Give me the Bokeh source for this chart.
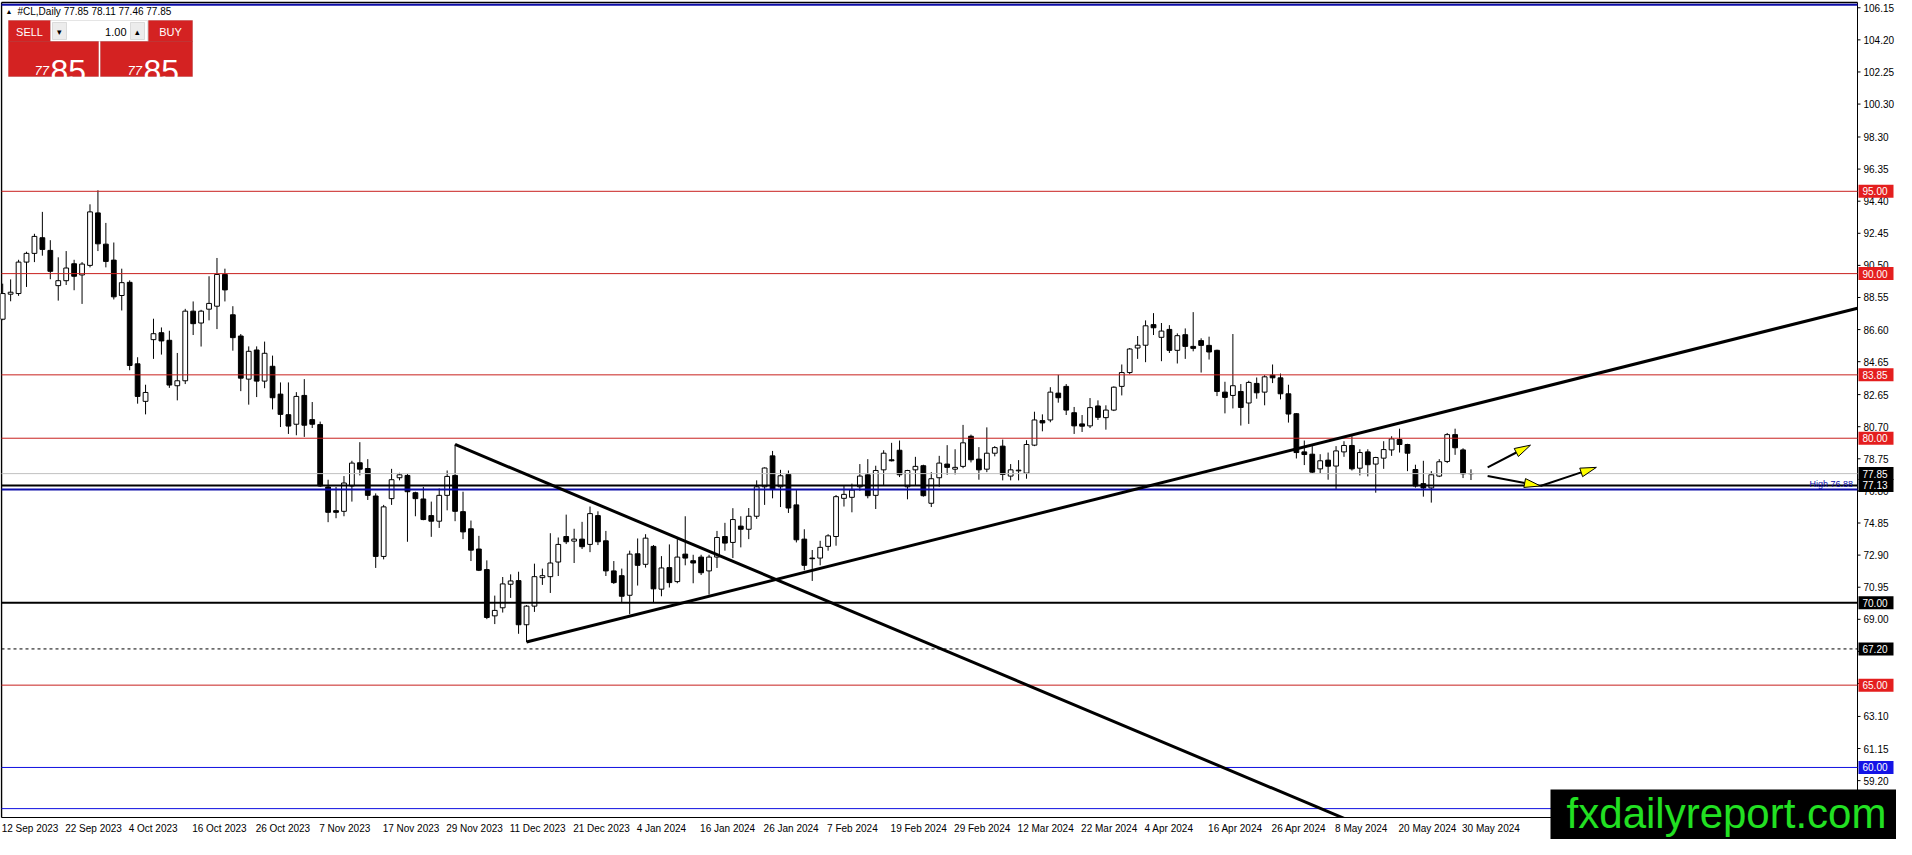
import math
from bokeh.plotting import figure
from bokeh.models import ColumnDataSource, Range1d, Label, BoxAnnotation
from bokeh.core.properties import value
from bokeh.embed import file_html
from bokeh.resources import INLINE

# ---------------- data ----------------
symbol_title = "#CL,Daily"
last_ohlc = [77.85, 78.11, 77.46, 77.85]

opens = [87.23, 88.75, 88.79, 90.70, 91.23, 92.18, 91.41, 89.27, 89.57, 90.60,
         89.92, 90.50, 93.69, 91.79, 90.82, 88.67, 89.47, 84.52, 82.24, 85.99,
         86.41, 85.95, 83.19, 83.49, 87.72, 87.00, 87.84, 88.02, 89.95, 87.50,
         86.21, 83.59, 85.36, 83.47, 84.37, 82.68, 81.43, 80.85, 82.60, 81.13,
         80.83, 77.04, 75.60, 75.56, 77.10, 78.51, 78.16, 76.49, 72.82, 76.33,
         77.60, 77.74, 76.69, 76.31, 75.30, 74.96, 76.53, 77.74, 75.54, 74.50,
         73.27, 72.02, 69.21, 69.70, 71.13, 71.35, 68.67, 69.80, 71.53, 71.59,
         72.48, 74.03, 73.75, 73.87, 73.55, 75.30, 73.77, 71.94, 71.65, 70.46,
         72.98, 72.34, 73.43, 70.83, 72.14, 71.29, 72.96, 72.56, 72.78, 71.94,
         72.78, 74.03, 73.67, 74.66, 74.47, 75.26, 77.05, 78.93, 77.05, 77.80,
         75.95, 73.87, 72.72, 72.72, 73.43, 74.03, 76.35, 76.41, 77.05, 77.78,
         76.53, 78.08, 78.69, 79.27, 77.05, 78.08, 78.33, 76.05, 77.60, 78.43,
         78.12, 78.29, 80.12, 78.73, 78.12, 79.09, 79.52, 77.70, 78.02, 77.88,
         79.58, 81.07, 81.11, 82.74, 83.15, 81.55, 80.87, 80.75, 81.96, 81.25,
         81.71, 83.15, 83.99, 85.48, 85.65, 86.90, 86.13, 86.61, 85.34, 86.29,
         85.58, 85.93, 85.64, 85.34, 82.80, 82.60, 82.84, 82.14, 83.33, 82.80,
         83.83, 83.67, 82.70, 81.49, 79.17, 79.03, 78.14, 78.67, 78.31, 79.17,
         79.56, 78.18, 79.17, 78.43, 78.79, 79.29, 79.92, 79.62, 78.10, 77.24,
         76.98, 77.70, 78.59, 80.22, 79.29, 77.85]
highs = [89.39, 89.65, 90.84, 91.33, 92.42, 93.75, 92.03, 90.99, 91.37, 90.84,
         90.70, 94.21, 95.06, 93.08, 91.89, 90.30, 89.59, 84.92, 83.25, 87.26,
         86.73, 86.53, 85.18, 87.86, 88.31, 87.80, 89.84, 90.95, 90.30, 88.02,
         86.33, 85.58, 85.58, 85.87, 85.02, 83.39, 83.39, 82.80, 83.59, 82.20,
         81.01, 77.48, 77.04, 77.70, 78.63, 79.76, 78.73, 76.65, 75.95, 78.14,
         77.90, 77.84, 76.75, 77.04, 76.15, 76.95, 78.04, 79.62, 76.75, 75.00,
         74.07, 72.58, 70.44, 71.57, 71.73, 71.89, 69.86, 72.38, 72.08, 74.23,
         73.97, 75.36, 74.50, 74.92, 75.85, 75.56, 74.37, 72.54, 72.08, 73.17,
         73.91, 74.17, 73.51, 72.84, 73.55, 73.87, 75.26, 72.92, 72.92, 72.92,
         74.37, 74.86, 75.75, 75.26, 75.76, 77.44, 78.23, 79.23, 78.08, 78.04,
         76.85, 74.47, 73.21, 73.77, 74.17, 76.55, 77.14, 77.24, 78.43, 78.73,
         78.33, 79.27, 79.72, 79.86, 78.08, 78.87, 78.39, 77.94, 78.93, 79.58,
         79.33, 80.81, 80.22, 79.46, 80.66, 79.52, 79.92, 78.43, 78.67, 79.88,
         81.61, 81.45, 83.10, 83.85, 83.29, 81.90, 81.41, 82.44, 82.30, 82.00,
         83.15, 84.48, 85.48, 86.21, 87.16, 87.60, 87.00, 86.87, 86.37, 86.67,
         87.66, 86.07, 86.17, 85.38, 83.43, 86.33, 83.29, 83.49, 83.69, 83.83,
         84.48, 83.93, 83.25, 81.53, 79.86, 79.52, 79.03, 79.13, 79.52, 79.82,
         80.12, 79.33, 79.33, 78.87, 79.82, 80.12, 80.58, 79.66, 78.39, 78.63,
         78.00, 78.73, 80.32, 80.58, 79.39, 78.11]
lows = [87.17, 88.32, 88.65, 89.19, 90.70, 91.09, 89.66, 88.36, 89.31, 88.99,
        88.16, 90.38, 91.37, 90.38, 88.43, 87.76, 84.13, 82.10, 81.45, 84.82,
        85.08, 83.06, 82.30, 83.29, 86.27, 85.57, 87.16, 86.63, 88.31, 85.32,
        82.86, 82.04, 82.50, 83.04, 81.75, 80.68, 80.26, 80.18, 80.08, 80.62,
        77.04, 74.90, 75.14, 75.26, 76.15, 77.74, 76.25, 72.12, 72.64, 75.95,
        77.44, 73.71, 75.26, 75.02, 74.01, 74.55, 75.62, 74.96, 73.87, 72.54,
        71.93, 69.01, 68.71, 69.41, 70.30, 68.12, 67.62, 69.45, 71.09, 70.60,
        71.63, 73.57, 72.42, 73.27, 73.08, 73.51, 71.63, 71.15, 70.00, 69.31,
        71.05, 72.14, 70.00, 70.40, 70.93, 71.19, 72.28, 71.19, 71.69, 70.50,
        72.12, 73.17, 72.72, 73.37, 73.87, 75.10, 75.95, 76.35, 75.82, 75.46,
        73.67, 71.98, 71.33, 72.28, 73.17, 73.47, 75.85, 75.50, 76.81, 76.35,
        75.70, 77.14, 78.59, 77.64, 76.29, 77.14, 76.45, 75.82, 77.05, 77.78,
        77.80, 78.18, 78.53, 77.48, 77.94, 78.90, 77.44, 77.44, 77.44, 77.54,
        79.52, 80.42, 80.97, 82.16, 81.41, 80.26, 80.38, 80.62, 81.11, 80.52,
        81.65, 82.60, 83.89, 84.82, 84.62, 86.27, 84.68, 85.18, 84.54, 84.82,
        85.28, 83.99, 84.78, 82.56, 81.51, 81.81, 80.77, 80.87, 82.40, 82.00,
        83.35, 82.36, 80.95, 78.77, 78.37, 77.88, 77.88, 77.48, 76.89, 78.87,
        78.04, 77.74, 77.68, 76.69, 78.14, 78.93, 79.13, 78.00, 77.00, 76.45,
        76.09, 77.64, 78.49, 78.99, 77.58, 77.46]
closes = [88.79, 88.87, 90.70, 91.23, 92.26, 91.47, 90.14, 89.57, 90.34, 89.84,
          90.58, 93.75, 91.81, 90.74, 88.59, 89.45, 84.42, 82.54, 82.78, 86.35,
          85.91, 83.23, 83.49, 87.72, 86.96, 87.72, 88.19, 89.95, 89.01, 86.11,
          83.65, 85.28, 83.47, 85.16, 82.46, 81.45, 80.74, 82.54, 80.79, 80.85,
          77.10, 75.50, 75.50, 77.28, 78.49, 78.12, 76.53, 72.82, 75.83, 77.48,
          77.78, 76.75, 76.33, 75.06, 74.96, 76.53, 77.68, 75.56, 74.31, 73.20,
          71.98, 69.11, 69.54, 71.15, 71.33, 68.67, 69.80, 71.59, 71.65, 72.42,
          73.55, 73.71, 73.87, 73.41, 75.42, 73.71, 71.94, 71.23, 70.40, 72.96,
          72.28, 73.93, 70.85, 72.12, 71.23, 72.78, 72.72, 72.42, 71.83, 72.78,
          73.97, 73.63, 75.06, 74.47, 75.26, 77.05, 78.19, 76.91, 77.72, 75.76,
          73.83, 72.28, 72.68, 73.37, 74.07, 76.45, 76.59, 76.85, 77.70, 76.51,
          78.04, 79.09, 78.63, 77.78, 78.04, 78.29, 76.51, 77.54, 78.49, 78.23,
          78.23, 79.72, 78.69, 78.08, 79.09, 79.43, 77.80, 78.08, 78.06, 79.62,
          81.11, 80.93, 82.80, 82.46, 81.71, 80.75, 80.73, 81.86, 81.27, 81.71,
          83.10, 83.99, 85.42, 85.65, 86.83, 86.71, 86.51, 85.34, 86.23, 85.58,
          85.46, 85.64, 85.24, 82.84, 82.48, 83.19, 81.87, 83.39, 82.76, 83.73,
          83.67, 82.70, 81.47, 79.13, 79.01, 77.94, 78.63, 78.30, 79.23, 79.56,
          78.14, 79.13, 78.39, 78.83, 79.31, 79.96, 79.62, 79.09, 77.10, 76.98,
          77.78, 78.57, 80.22, 79.42, 77.84, 77.85]

date_labels = ["12 Sep 2023", "22 Sep 2023", "4 Oct 2023", "16 Oct 2023", "26 Oct 2023",
               "7 Nov 2023", "17 Nov 2023", "29 Nov 2023", "11 Dec 2023", "21 Dec 2023",
               "4 Jan 2024", "16 Jan 2024", "26 Jan 2024", "7 Feb 2024", "19 Feb 2024",
               "29 Feb 2024", "12 Mar 2024", "22 Mar 2024", "4 Apr 2024", "16 Apr 2024",
               "26 Apr 2024", "8 May 2024", "20 May 2024", "30 May 2024"]
label_every = 8

price_ticks = [106.15, 104.20, 102.25, 100.30, 98.30, 96.35, 94.40, 92.45, 90.50, 88.55,
               86.60, 84.65, 82.65, 80.70, 78.75, 76.80, 74.85, 72.90, 70.95, 69.00,
               67.05, 65.10, 63.10, 61.15, 59.20]

red_levels = [95.00, 90.00, 83.85, 80.00, 65.00]
blue_levels = [60.00, 57.50]
thick_black_levels = [77.13, 70.00]
dashed_levels = [67.20]
navy_levels = [106.33, 76.88]
bid_price = 77.85

tag_prices = [95.00, 90.00, 83.85, 80.00, 77.85, 77.13, 70.00, 67.20, 65.00, 60.00]
tag_kinds = ["red", "red", "red", "red", "black", "black", "black", "black", "red", "blue"]

desc_line_x = [57, 172]
desc_line_y = [79.62, 56.30]
asc_line_x = [66, 233.7]
asc_line_y = [67.62, 87.90]

arrow_x0 = [187.1, 187.1, 193.75]
arrow_y0 = [78.23, 77.70, 77.10]
arrow_x1 = [192.5, 193.75, 200.8]
arrow_y1 = [79.58, 77.10, 78.23]

high_note = "High  76.88"
watermark = "fxdailyreport.com"

# ---------------- layout ----------------
CW_, CH_ = 1896, 839                    # canvas = frame
LEFT_PX, AXIS_PX = 1, 1857              # chart left border / price-scale line (px from left)
TOP_PX, BOTTOM_PX = 2, 817              # chart top border / time-scale line (px from top)
X_LEFT, AXIS_X = -0.15, 233.7           # bars visible between the borders
P_TOP, P_BOTTOM = 106.47, 56.96         # prices at the top border / time-scale line
ppx = (AXIS_PX - LEFT_PX) / (AXIS_X - X_LEFT)
ppy = (BOTTOM_PX - TOP_PX) / (P_TOP - P_BOTTOM)
X0 = X_LEFT - LEFT_PX / ppx
X1 = X0 + CW_ / ppx
Y1 = P_TOP + TOP_PX / ppy
Y0 = Y1 - CH_ / ppy
FONT = "Liberation Sans"

p = figure(frame_width=CW_, frame_height=CH_,
           x_range=Range1d(X0, X1), y_range=Range1d(Y0, Y1),
           x_axis_location=None, y_axis_location=None,
           output_backend="svg", toolbar_location=None,
           min_border=0, background_fill_color="white", border_fill_color="white",
           outline_line_color=None)
p.xgrid.visible = False
p.ygrid.visible = False

# chart border (left / top), price-scale line, time-scale line
p.segment(x0=[X_LEFT, X_LEFT], y0=[P_BOTTOM, P_TOP], x1=[X_LEFT, AXIS_X], y1=[P_TOP, P_TOP],
          line_color="black", line_width=1.5)
p.segment(x0=[AXIS_X, X_LEFT], y0=[P_BOTTOM, P_BOTTOM], x1=[AXIS_X, X1], y1=[P_TOP, P_BOTTOM],
          line_color="black", line_width=1)

# candles
n = len(opens)
src = ColumnDataSource(dict(
    x=list(range(n)),
    top=[max(o, c) for o, c in zip(opens, closes)],
    bottom=[min(o, c) for o, c in zip(opens, closes)],
    high=highs, low=lows,
    fill=["white" if c >= o else "black" for o, c in zip(opens, closes)],
))
p.segment(x0="x", y0="low", x1="x", y1="high", source=src, line_color="black", line_width=1)
p.vbar(x="x", width=0.6, top="top", bottom="bottom", fill_color="fill",
       line_color="black", line_width=1, source=src)

# horizontal levels, drawn up to the price scale
def hlines(levels, **kw):
    p.segment(x0=[X_LEFT] * len(levels), y0=levels, x1=[AXIS_X] * len(levels), y1=levels, **kw)

hlines([bid_price], line_color="#c0c0c0", line_width=1)
hlines(red_levels, line_color="#c8201e", line_width=1)
hlines(blue_levels, line_color="#1010e0", line_width=1)
hlines(dashed_levels, line_color="black", line_width=1, line_dash="3 3")
hlines(thick_black_levels, line_color="black", line_width=2)
hlines(navy_levels, line_color="#0c0ca8", line_width=2)

# trend lines (the falling one runs out through the time scale)
p.line(desc_line_x, desc_line_y, line_color="black", line_width=3)
p.line(asc_line_x, asc_line_y, line_color="black", line_width=3)

# arrows (shaft + slender yellow head)
hx, hy, sx0, sy0, sx1, sy1 = [], [], [], [], [], []
for a, b, c, d in zip(arrow_x0, arrow_y0, arrow_x1, arrow_y1):
    dx, dy = (c - a) * ppx, (d - b) * ppy
    L = math.hypot(dx, dy)
    ux, uy = dx / L, dy / L
    hl, hw = 16, 9
    bx, by = c - hl * ux / ppx, d - hl * uy / ppy
    px_, py_ = -uy, ux
    hx.append([c, bx + hw / 2 * px_ / ppx, bx - hw / 2 * px_ / ppx])
    hy.append([d, by + hw / 2 * py_ / ppy, by - hw / 2 * py_ / ppy])
    sx0.append(a); sy0.append(b); sx1.append(bx); sy1.append(by)
p.segment(x0=sx0, y0=sy0, x1=sx1, y1=sy1, line_color="black", line_width=2)
p.patches(hx, hy, fill_color="#ffff00", line_color="black", line_width=1)

# white strip below the time-scale line (hides the falling trend line's tail)
p.quad(left=[X0], right=[X1], top=[P_BOTTOM - 0.5 / ppy], bottom=[Y0], fill_color="white", line_color=None)

# price scale: ticks + labels
tick_len = 3 / ppx
p.segment(x0=[AXIS_X] * len(price_ticks), y0=price_ticks,
          x1=[AXIS_X + tick_len] * len(price_ticks), y1=price_ticks,
          line_color="black", line_width=1)
p.text(x=[AXIS_X + 6 / ppx] * len(price_ticks), y=price_ticks,
       text=[f"{t:.2f}" for t in price_ticks], text_font=value(FONT), text_font_size="10px",
       text_color="black", text_baseline="middle", text_align="left")

# price tags on the scale: coloured box + white text
tag_colors = {"red": "#e41e1e", "black": "black", "blue": "#1414e6"}
half_h = 6.5 / ppy
p.quad(left=[AXIS_X + 1 / ppx] * len(tag_prices), right=[AXIS_X + 36 / ppx] * len(tag_prices),
       top=[t + half_h for t in tag_prices], bottom=[t - half_h for t in tag_prices],
       fill_color=[tag_colors[k] for k in tag_kinds], line_color=None)
p.text(x=[AXIS_X + 5 / ppx] * len(tag_prices), y=tag_prices,
       text=[f"{t:.2f}" for t in tag_prices], text_font=value(FONT), text_font_size="10px",
       text_color="white", text_baseline="middle", text_align="left")

# time scale: labels start at their bar (MT4 style)
date_x = [k * label_every for k in range(len(date_labels))]
p.text(x=date_x, y=[P_BOTTOM] * len(date_labels), text=date_labels, x_offset=-1, y_offset=5,
       text_font=value(FONT), text_font_size="10px", text_color="black",
       text_baseline="top", text_align="left")

# line description
p.add_layout(Label(x=AXIS_X, y=navy_levels[1], x_offset=-2, y_offset=1, text=high_note,
                   text_color="#0c0ca8", text_font=FONT, text_font_size="9px",
                   text_baseline="bottom", text_align="right"))

# ---- top-left MT4 panel (positions in px from the canvas top-left) ----
def sxp(rx):
    return rx - 1
def syp(ry):
    return CH_ - ry

def box(l, r, t, b, fill, line):
    p.add_layout(BoxAnnotation(left=sxp(l), right=sxp(r), top=syp(t), bottom=syp(b),
                               left_units="screen", right_units="screen",
                               top_units="screen", bottom_units="screen",
                               fill_color=fill, fill_alpha=1, line_color=line, line_width=1,
                               level="overlay"))

def txt(x, y, s, size, color="black", align="left", baseline="middle", style="normal"):
    p.add_layout(Label(x=sxp(x), y=syp(y), x_units="screen", y_units="screen", text=s,
                       text_color=color, text_font=FONT, text_font_size=size,
                       text_align=align, text_baseline=baseline, text_font_style=style,
                       level="overlay"))

RED = "#d42222"
RED_LINE = "#9a0e0e"
box(9, 51, 20, 41, RED, RED_LINE)
box(51, 148, 20, 41, "white", "#a8a8a8")
box(53, 67, 22, 39, "#ececec", "#a0a0a0")
box(131, 145, 22, 39, "#ececec", "#a0a0a0")
box(149, 193, 20, 41, RED, RED_LINE)
box(9, 99, 41, 76, RED, RED_LINE)
box(101, 193, 41, 76, RED, RED_LINE)

txt(6, 11, "▲", "7px")
txt(18, 11, symbol_title + "  " + " ".join(f"{v:.2f}" for v in last_ohlc), "10px")
txt(30, 31, "SELL", "11px", "white", "center")
txt(60, 31, "▾", "9px", "black", "center")
txt(127, 31, "1.00", "11px", "black", "right")
txt(138, 31, "▴", "9px", "black", "center")
txt(171, 31, "BUY", "11px", "white", "center")
big_int = f"{last_ohlc[3]:.2f}".split(".")
txt(35, 70, big_int[0], "13px", "white", "left", "alphabetic", "italic")
txt(51, 70, big_int[1], "32px", "white", "left", "alphabetic")
txt(128, 70, big_int[0], "13px", "white", "left", "alphabetic", "italic")
txt(144, 70, big_int[1], "32px", "white", "left", "alphabetic")

# ---- watermark (bottom-right) ----
p.add_layout(BoxAnnotation(left=1550, right=CW_, top=syp(789), bottom=0,
                           left_units="screen", right_units="screen",
                           top_units="screen", bottom_units="screen",
                           fill_color="black", fill_alpha=1, line_color=None, level="overlay"))
p.add_layout(Label(x=1726, y=syp(813), x_units="screen", y_units="screen", text=watermark,
                   text_color="#22e022", text_font=FONT, text_font_size="42px",
                   text_align="center", text_baseline="middle", level="overlay"))

open("out.html", "w").write(file_html(p, INLINE))
